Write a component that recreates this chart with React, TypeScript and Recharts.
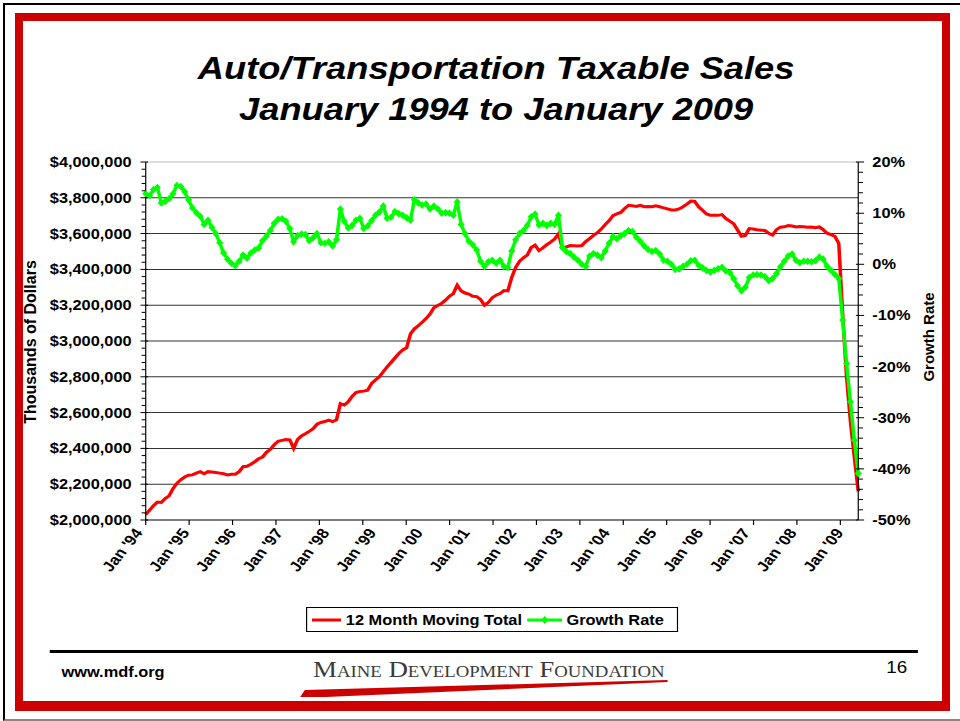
import React from "react";
import { CartesianGrid, Line, LineChart, XAxis, YAxis } from "recharts";

const FONT = "'Liberation Sans', Arial, Helvetica, sans-serif";
// the source slide is stretched sideways, so the chart block is scaled the same way
const STRETCH = 1.17;

const MONTH_NAMES = ["Jan", "Feb", "Mar", "Apr", "May", "Jun", "Jul", "Aug", "Sep", "Oct", "Nov", "Dec"];
const START_YEAR = 1994;

// 12 month moving total, thousands of dollars (values in thousands of the axis unit)
const TOTAL_K = [
  2030, 2055, 2080, 2100, 2098, 2120, 2135, 2175, 2205, 2225, 2240, 2250,
  2252, 2262, 2270, 2258, 2270, 2268, 2265, 2262, 2258, 2252, 2255, 2256,
  2270, 2298, 2300, 2312, 2325, 2342, 2352, 2378, 2395, 2420, 2440, 2445,
  2450, 2448, 2400, 2450, 2470, 2482, 2495, 2510, 2535, 2545, 2550, 2558,
  2550, 2560, 2650, 2642, 2660, 2690, 2712, 2718, 2720, 2725, 2762, 2782,
  2800, 2828, 2855, 2880, 2905, 2930, 2950, 2962, 3040, 3068, 3085, 3105,
  3125, 3150, 3185, 3198, 3210, 3228, 3250, 3265, 3312, 3280, 3268, 3262,
  3250, 3248, 3232, 3200, 3215, 3242, 3256, 3265, 3282, 3280, 3355, 3410,
  3445, 3465, 3480, 3522, 3535, 3505, 3520, 3538, 3552, 3570, 3598, 3520,
  3525, 3533, 3532, 3531, 3533, 3555, 3572, 3590, 3605, 3625, 3650, 3672,
  3700, 3710, 3718, 3740, 3758, 3755, 3752, 3758, 3750, 3752, 3750, 3755,
  3750, 3744, 3738, 3732, 3732, 3738, 3750, 3765, 3782, 3780, 3750, 3730,
  3710, 3703, 3702, 3702, 3706, 3684, 3670, 3655, 3620, 3585, 3590, 3628,
  3626, 3622, 3619, 3618, 3602, 3592, 3622, 3636, 3638, 3645, 3642, 3637,
  3640, 3638, 3636, 3637, 3633, 3637, 3622, 3602, 3594, 3585, 3545, 3150,
  2800, 2550, 2350, 2160,
];

// growth rate, percent
const GROWTH_PCT = [
  13.8, 13.4, 14.6, 15.0, 12.0, 12.3, 12.8, 13.8, 15.4, 15.2, 14.2, 12.6,
  11.0, 10.1, 9.4, 7.8, 8.6, 7.2, 6.0, 4.2, 2.2, 1.0, 0.2, -0.3,
  0.6, 1.8, 1.2, 2.2, 2.8, 3.2, 4.6, 5.5, 6.6, 8.0, 8.8, 8.9,
  8.4, 7.0, 4.4, 5.6, 5.9, 5.8, 4.6, 5.2, 6.0, 4.2, 4.1, 4.4,
  3.6, 4.8, 10.8, 8.4, 7.1, 7.6, 8.6, 9.0, 7.0, 7.5, 8.5, 9.6,
  10.2, 11.4, 9.0, 9.2, 10.3, 9.9, 9.6, 9.1, 8.6, 12.6, 12.0, 11.6,
  11.8, 10.8, 11.4, 10.8, 10.0, 10.1, 10.0, 9.6, 12.2, 7.8, 6.0, 4.5,
  3.8, 2.8, 0.6, -0.4, 0.5, 0.8, 0.2, 0.8, -0.4, -0.6, 2.6, 4.8,
  6.0, 6.6, 7.6, 9.3, 9.8, 7.7, 8.0, 7.6, 8.0, 7.8, 9.6, 3.3,
  2.5, 2.1, 1.4, 0.8, 0.0, -0.4, 1.6, 2.1, 1.8, 1.3, 2.6, 4.1,
  5.4, 5.0, 5.6, 6.0, 6.6, 6.4, 5.3, 4.5, 3.6, 2.9, 2.5, 2.7,
  2.0, 0.8, 0.6, 0.0, -1.0, -0.9, -0.4, 0.0, 0.7, 0.8, -0.2, -0.7,
  -1.2, -1.5, -1.2, -0.9, -0.6, -1.3, -1.6, -2.8, -4.2, -5.2, -4.5, -2.6,
  -2.1, -2.0, -2.1, -2.4, -3.2, -2.8, -1.8, -0.5, 0.6, 1.6, 2.0, 0.8,
  0.3, 0.6, 0.6, 0.5, 0.7, 1.4, 1.0, -0.4, -1.2, -2.0, -2.8, -10.9,
  -19.4, -26.9, -34.4, -40.9,
];

const YEAR_LABELS = [
  "Jan '94", "Jan '95", "Jan '96", "Jan '97", "Jan '98", "Jan '99", "Jan '00", "Jan '01",
  "Jan '02", "Jan '03", "Jan '04", "Jan '05", "Jan '06", "Jan '07", "Jan '08", "Jan '09",
];

const LEFT_MAJOR = [
  2000000, 2200000, 2400000, 2600000, 2800000, 3000000,
  3200000, 3400000, 3600000, 3800000, 4000000,
];
const RIGHT_MAJOR = [-50, -40, -30, -20, -10, 0, 10, 20];

const LEFT_TICKS = Array.from({ length: 51 }, (_, k) => 2000000 + k * 40000);
const RIGHT_TICKS = Array.from({ length: 36 }, (_, k) => -50 + k * 2);
const GRID_VALUES = LEFT_MAJOR.slice(1, -1);

const LABEL_TICKS = YEAR_LABELS.map((_, k) => k * 12);
// Excel put its tick marks on a slightly different step than the labels
const MARK_STEP = 11.15;
const MARK_TICKS = Array.from({ length: 17 }, (_, k) => +(k * MARK_STEP).toFixed(2));
const X_TICKS = Array.from(new Set([...LABEL_TICKS, ...MARK_TICKS])).sort((a, b) => a - b);

const data = TOTAL_K.map((v, i) => ({
  i,
  month: `${MONTH_NAMES[i % 12]} '${String((START_YEAR + Math.floor(i / 12)) % 100).padStart(2, "0")}`,
  total: v * 1000,
  growth: GROWTH_PCT[i],
}));

function BottomTick({ x, y, payload }: any) {
  const v = payload.value as number;
  const k = LABEL_TICKS.indexOf(v);
  const mark = MARK_TICKS.includes(v);
  const tx = Number(x) - 2;
  const ty = Number(y) + 13;
  return (
    <g>
      {mark && <line x1={x} x2={x} y1={y} y2={Number(y) + 5} stroke="#000" strokeWidth={1} />}
      {k >= 0 && (
        <g transform={`translate(${tx}, ${ty}) rotate(-55)`}>
          <text x={0} y={0} textAnchor="end" fontSize={14.5} fontWeight="bold" fontFamily={FONT} fill="#000">
            {YEAR_LABELS[k]}
          </text>
        </g>
      )}
    </g>
  );
}

function LeftTick({ x, y, payload }: any) {
  const v = payload.value as number;
  const major = LEFT_MAJOR.includes(v);
  return (
    <g>
      <line x1={major ? x - 4.5 : x - 3.5} x2={major ? x + 2 : x} y1={y} y2={y} stroke="#000" strokeWidth={1} />
      {major && (
        <text x={x - 12} y={y} dy="0.36em" textAnchor="end" fontSize={14} fontWeight="bold" fontFamily={FONT} fill="#000">
          {"$" + v.toLocaleString("en-US")}
        </text>
      )}
    </g>
  );
}

function RightTick({ x, y, payload }: any) {
  const v = payload.value as number;
  const major = RIGHT_MAJOR.includes(v);
  return (
    <g>
      <line x1={major ? x - 2 : x} x2={major ? x + 5 : x + 4} y1={y} y2={y} stroke="#000" strokeWidth={1} />
      {major && (
        <text x={x + 12} y={y} dy="0.36em" textAnchor="start" fontSize={14} fontWeight="bold" fontFamily={FONT} fill="#000">
          {`${v}%`}
        </text>
      )}
    </g>
  );
}

function Diamond(props: any) {
  const { cx, cy, index } = props;
  if (cx == null || cy == null) return <g key={index} />;
  return (
    <polygon
      key={index}
      points={`${cx},${cy - 3.8} ${cx + 3},${cy} ${cx},${cy + 3.8} ${cx - 3},${cy}`}
      fill="#00FF00"
    />
  );
}

const abs = (s: React.CSSProperties): React.CSSProperties => ({ position: "absolute", ...s });

export default function App() {
  return (
    <div style={abs({ left: 0, top: 0, width: 960, height: 721, background: "#fff", overflow: "hidden", fontFamily: FONT, color: "#000" })}>
      {/* slide edge + red frame */}
      <div style={abs({ left: 3, top: 3, width: 960, height: 714, borderLeft: "2px solid #000", borderTop: "2px solid #000", borderBottom: "2px solid #888" })} />
      <div style={abs({ left: 15, top: 13, width: 919, height: 680, border: "8px solid #CC0000", borderBottomWidth: 10 })} />

      <div style={abs({ left: 31, top: 342, transform: "translate(-50%, -50%) rotate(-90deg)", whiteSpace: "nowrap", fontSize: 16, fontWeight: "bold" })}>
        Thousands of Dollars
      </div>
      <div style={abs({ left: 928, top: 337, transform: "translate(-50%, -50%) rotate(-90deg)", whiteSpace: "nowrap", fontSize: 15, fontWeight: "bold" })}>
        Growth Rate
      </div>

      <div style={abs({ left: 10, top: 0, width: 790, height: 721, transform: `scaleX(${STRETCH})`, transformOrigin: "0 0" })}>
        <div style={abs({ left: 0, top: 48, width: 831, textAlign: "center", fontSize: 31, fontWeight: "bold", fontStyle: "italic", lineHeight: "41px", whiteSpace: "nowrap" })}>
          Auto/Transportation Taxable Sales
          <br />
          January 1994 to January 2009
        </div>

        <div style={abs({ left: 0, top: 150 })}>
          <LineChart width={785} height={430} data={data} margin={{ top: 12, right: 0, bottom: 0, left: 0 }}>
            <CartesianGrid vertical={false} horizontalValues={GRID_VALUES} stroke="#333" strokeWidth={1} />
            <CartesianGrid vertical={false} horizontalValues={[4000000]} stroke="#bbb" strokeWidth={1} />
            <XAxis
              type="number"
              dataKey="i"
              domain={[0, TOTAL_K.length - 1]}
              ticks={X_TICKS}
              interval={0}
              tick={<BottomTick />}
              tickLine={false}
              tickSize={0}
              tickMargin={0}
              height={60}
              stroke="#000"
            />
            <YAxis
              domain={[2000000, 4000000]}
              ticks={LEFT_TICKS}
              interval={0}
              tick={<LeftTick />}
              tickLine={false}
              tickSize={0}
              tickMargin={0}
              width={116}
              stroke="#000"
            />
            <YAxis
              yAxisId="right"
              orientation="right"
              domain={[-50, 20]}
              ticks={RIGHT_TICKS}
              interval={0}
              tick={<RightTick />}
              tickLine={false}
              tickSize={0}
              tickMargin={0}
              width={60}
              stroke="#000"
            />
            <Line
              type="linear"
              dataKey="total"
              name="12 Month Moving Total"
              stroke="#FF0000"
              strokeWidth={3}
              dot={false}
              activeDot={false}
              isAnimationActive={false}
            />
            <Line
              type="linear"
              yAxisId="right"
              dataKey="growth"
              name="Growth Rate"
              stroke="#00FF00"
              strokeWidth={3}
              dot={Diamond}
              activeDot={false}
              isAnimationActive={false}
            />
          </LineChart>
        </div>

        {/* legend */}
        <div style={abs({ left: 253, top: 607, width: 318, height: 25, boxSizing: "border-box", border: "1px solid #000", display: "flex", alignItems: "center", fontSize: 14, fontWeight: "bold", whiteSpace: "nowrap" })}>
          <svg width={25} height={12} style={{ marginLeft: 4 }}>
            <line x1={0} x2={25} y1={6} y2={6} stroke="#FF0000" strokeWidth={3} />
          </svg>
          <span style={{ marginLeft: 4 }}>12 Month Moving Total</span>
          <svg width={30} height={12} style={{ marginLeft: 4 }}>
            <line x1={0} x2={30} y1={6} y2={6} stroke="#00FF00" strokeWidth={3} />
            <polygon points="15,2 18,6 15,10 12,6" fill="#00FF00" />
          </svg>
          <span style={{ marginLeft: 4 }}>Growth Rate</span>
        </div>

        {/* footer */}
        <div style={abs({ left: 34, top: 650, width: 742, height: 3, background: "#000" })} />
        <div style={abs({ left: 44, top: 665, fontSize: 14, fontWeight: "bold", lineHeight: "14px" })}>www.mdf.org</div>
        <div style={abs({ left: 749, top: 660, fontSize: 16, lineHeight: "16px" })}>16</div>
        <div style={abs({ left: 259, top: 658, fontSize: 23, lineHeight: "23px", fontFamily: "'Liberation Serif', 'Times New Roman', serif", fontVariant: "small-caps", color: "#3b3b3b", whiteSpace: "nowrap" })}>
          Maine Development Foundation
        </div>
        <svg style={abs({ left: 246, top: 678 })} width={320} height={20}>
          <polygon points="2,19 6,12 316,2 316,4 24,19" fill="#CC0000" />
        </svg>
      </div>
    </div>
  );
}
